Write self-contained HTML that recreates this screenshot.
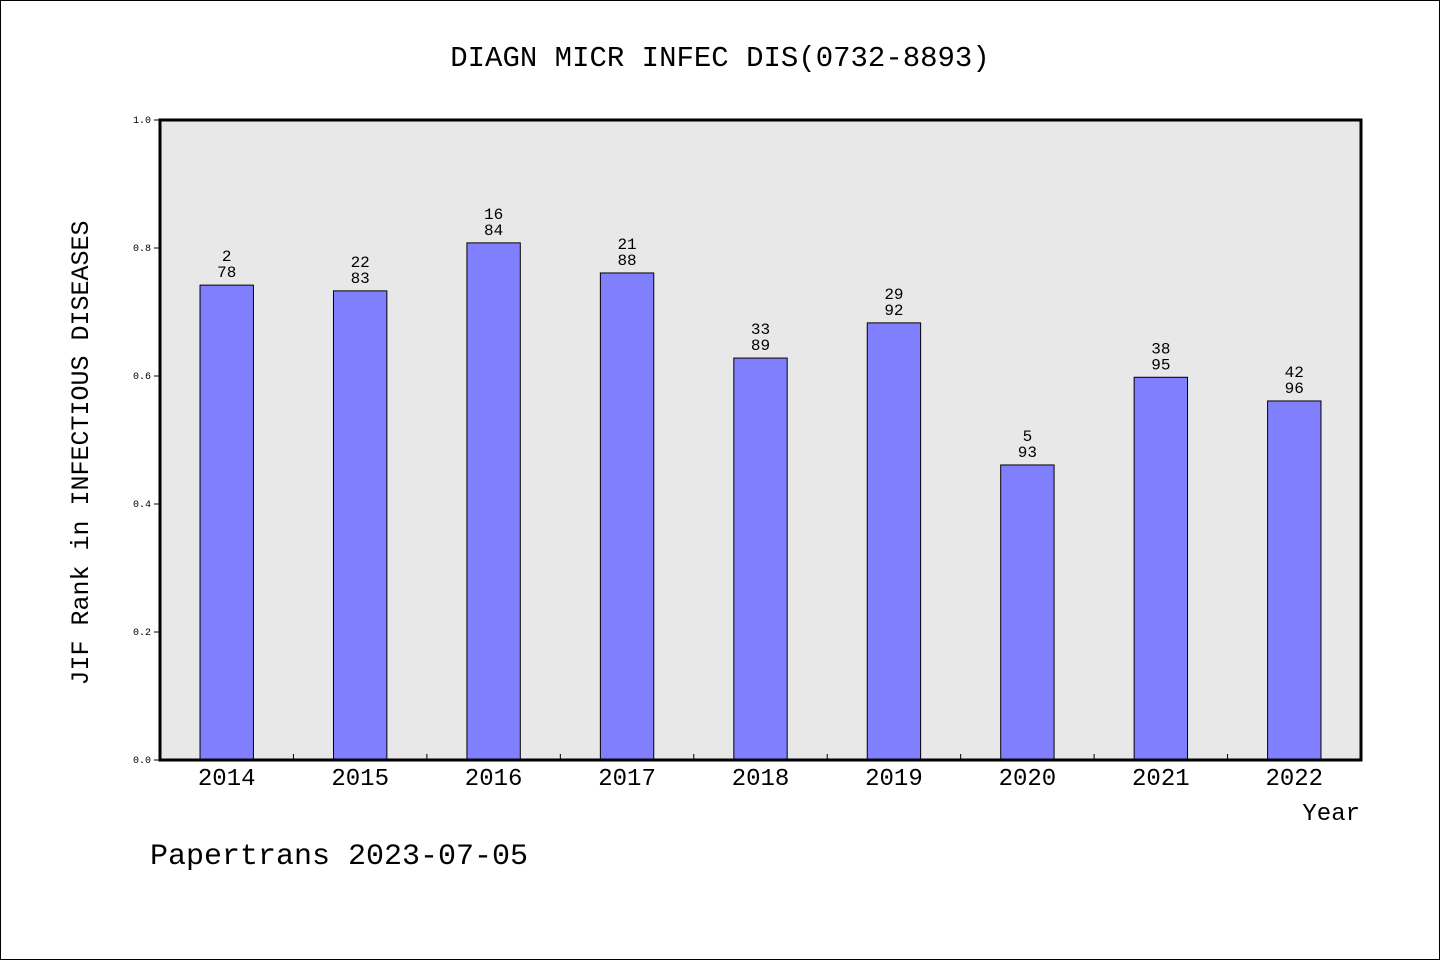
<!DOCTYPE html>
<html><head><meta charset="utf-8"><style>
html,body{margin:0;padding:0;background:#fff}
svg{display:block}
text{font-family:"Liberation Mono","DejaVu Sans Mono",monospace;fill:#000}
</style></head><body>
<svg id="chart" width="1440" height="960" xmlns="http://www.w3.org/2000/svg">
<rect x="0.5" y="0.5" width="1439" height="959" fill="#fff" stroke="#000"/>
<text x="720" y="66" font-size="29" text-anchor="middle">DIAGN MICR INFEC DIS(0732-8893)</text>
<rect x="160" y="120" width="1201" height="640" fill="#e8e8e8"/>
<g id="bars"></g>
<rect x="160" y="120" width="1201" height="640" fill="none" stroke="#000" stroke-width="3"/>
<g id="axes"></g>
<text transform="translate(88,453) rotate(-90)" font-size="25" text-anchor="middle">JIF Rank in INFECTIOUS DISEASES</text>
<text x="1360" y="820" font-size="24" text-anchor="end">Year</text>
<text x="150" y="864" font-size="30">Papertrans 2023-07-05</text>
</svg>
<script>
const categories = ["2014","2015","2016","2017","2018","2019","2020","2021","2022"];
const values = [0.742,0.733,0.808,0.761,0.628,0.683,0.461,0.598,0.561];
const ranks = ["2","22","16","21","33","29","5","38","42"];
const totals = ["78","83","84","88","89","92","93","95","96"];
const yTicks = [0,0.2,0.4,0.6,0.8,1.0];
const yTickLabels = ["0.0","0.2","0.4","0.6","0.8","1.0"];
const X0=160,X1=1361,Y0=760,Y1=120;
const NS="http://www.w3.org/2000/svg";
const step=(X1-X0)/categories.length;
const xC=i=>X0+step*(i+0.5);
const yS=v=>Y0-(v)*(Y0-Y1);
function mk(t,a,p){const e=document.createElementNS(NS,t);for(const k in a)e.setAttribute(k,a[k]);p.appendChild(e);return e;}
const bars=document.getElementById('bars'),axes=document.getElementById('axes');
const bw=step*0.4;
values.forEach((v,i)=>{
  const r=mk('rect',{x:xC(i)-bw/2,y:yS(v),width:bw,height:Y0-yS(v),fill:'#8080ff',stroke:'#000','stroke-width':1},bars);
  
  
  const t1=mk('text',{x:xC(i),y:yS(v)-24,'font-size':16,'text-anchor':'middle'},bars);t1.textContent=ranks[i];
  
  
  const t2=mk('text',{x:xC(i),y:yS(v)-8,'font-size':16,'text-anchor':'middle'},bars);t2.textContent=totals[i];
  
  
  const xl=mk('text',{x:xC(i),y:785,'font-size':24,'text-anchor':'middle'},axes);xl.textContent=categories[i];
  
  
  if(i>0){const tk=mk('line',{x1:X0+step*i,x2:X0+step*i,y1:Y0,y2:Y0-6,stroke:'#000','stroke-width':1},axes);
  
  }
});
yTicks.forEach((v,i)=>{
  const tk=mk('line',{x1:154,x2:160,y1:yS(v),y2:yS(v),stroke:'#000','stroke-width':1},axes);
  
  
  const tl=mk('text',{x:151,y:yS(v)+3,'font-size':10,'text-anchor':'end'},axes);tl.textContent=yTickLabels[i];
  
  
});
</script>
</body></html>
